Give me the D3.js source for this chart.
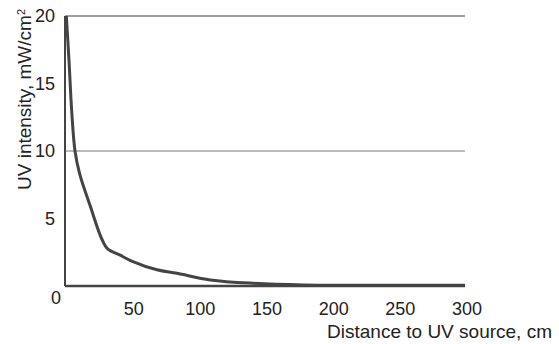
<!DOCTYPE html>
<html>
<head>
<meta charset="utf-8">
<script src="https://cdn.jsdelivr.net/npm/d3@7"></script>
<style>
  body { margin: 0; background: #fff; }
  text { font-family: "Liberation Sans", Arial, sans-serif; fill: #222; }
</style>
</head>
<body>
<div id="chart"></div>
<script>
// readings
const distance  = [1, 3, 5, 7.5, 11, 19, 27.5, 32, 41, 50, 69, 84, 109, 141, 179, 250, 300];
const intensity = [20, 16.7, 13, 10, 8.3, 5.9, 3.5, 2.75, 2.3, 1.85, 1.2, 0.94, 0.45, 0.2, 0.08, 0.06, 0.05];
const xTicks = [50, 100, 150, 200, 250, 300];
const yTicks = [5, 10, 15, 20];
const gridLines = [10, 20];

const width = 559, height = 344;
const margin = {top: 16, right: 94, bottom: 58, left: 65};
const w = width - margin.left - margin.right;
const h = height - margin.top - margin.bottom;

const svg = d3.select("#chart").append("svg")
    .attr("width", width)
    .attr("height", height);

const g = svg.append("g")
    .attr("transform", "translate(" + margin.left + "," + margin.top + ")");

const x = d3.scaleLinear().domain([0, 300]).range([0, w]);
const y = d3.scaleLinear().domain([0, 20]).range([h, 0]);

// horizontal grid
g.selectAll(".grid")
  .data(gridLines)
  .enter().append("line")
    .attr("x1", 0).attr("x2", w)
    .attr("y1", d => y(d)).attr("y2", d => y(d))
    .attr("stroke", d => d === 20 ? "#444" : "#bbb")
    .attr("stroke-width", d => d === 20 ? 1.2 : 1.8);

// axes lines
g.append("line")
    .attr("x1", 0).attr("x2", 0).attr("y1", y(20)).attr("y2", h)
    .attr("stroke", "#444").attr("stroke-width", 2);
g.append("line")
    .attr("x1", 0).attr("x2", w).attr("y1", h).attr("y2", h)
    .attr("stroke", "#444").attr("stroke-width", 2.5);

// y tick labels
g.selectAll(".ylab")
  .data(yTicks)
  .enter().append("text")
    .attr("x", -10)
    .attr("y", d => y(d))
    .attr("dy", "0.36em")
    .attr("text-anchor", "end")
    .style("font-size", "18px")
    .text(d => d);

// shared zero label
g.append("text")
    .attr("x", x(0) - 9)
    .attr("y", h + 18)
    .attr("text-anchor", "middle")
    .style("font-size", "18px")
    .text("0");

// x tick labels
g.selectAll(".xlab")
  .data(xTicks)
  .enter().append("text")
    .attr("x", d => x(d) + 2)
    .attr("y", h + 29)
    .attr("text-anchor", "middle")
    .style("font-size", "18px")
    .text(d => d);

// curve
const line = d3.line()
    .x((d, i) => x(distance[i]))
    .y(d => y(d))
    .curve(d3.curveCatmullRom.alpha(0.5));

g.append("path")
    .datum(intensity)
    .attr("fill", "none")
    .attr("stroke", "#444")
    .attr("stroke-width", 3)
    .attr("d", line);

// axis titles
svg.append("text")
    .attr("x", 552)
    .attr("y", 338)
    .attr("text-anchor", "end")
    .style("font-size", "19px")
    .text("Distance to UV source, cm");

const yt = svg.append("text")
    .attr("transform", "translate(31,190) rotate(-90)")
    .attr("text-anchor", "start")
    .style("font-size", "19px");
yt.append("tspan").text("UV intensity, mW/cm");
yt.append("tspan").attr("dy", "-0.55em").style("font-size", "11px").text("2");
</script>
</body>
</html>
